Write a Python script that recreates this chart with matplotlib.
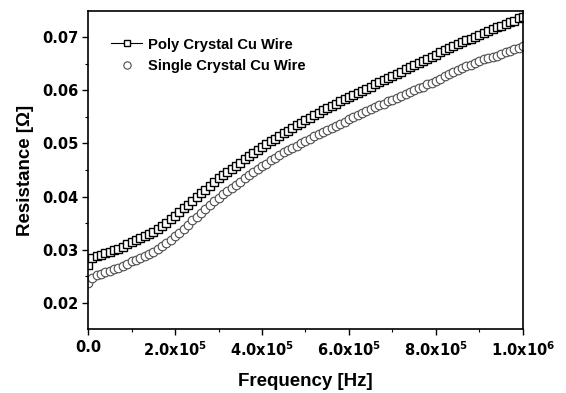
import numpy as np
import matplotlib
matplotlib.use("Agg")
import matplotlib.pyplot as plt
from matplotlib.ticker import MultipleLocator, FixedLocator, FixedFormatter

plt.rcParams['font.family'] = ['Liberation Sans', 'DejaVu Sans']
plt.rcParams['font.weight'] = 'bold'
plt.rcParams['mathtext.fontset'] = 'custom'
plt.rcParams['mathtext.rm'] = 'DejaVu Sans:bold'
plt.rcParams['mathtext.bf'] = 'DejaVu Sans:bold'
plt.rcParams['mathtext.default'] = 'bf'

# frequency grid (Hz), 101 samples from 0 to 1 MHz
freq = np.arange(101) * 1e4

# resistance values (ohm)
poly = [
    0.0272, 0.0285, 0.0288, 0.0290, 0.0293, 0.0296, 0.0299, 0.0302, 0.0306, 0.0310,
    0.0314, 0.0318, 0.0322, 0.0326, 0.0330, 0.0334, 0.0339, 0.0344, 0.0350, 0.0357,
    0.0364, 0.0371, 0.0378, 0.0385, 0.0392, 0.0399, 0.0406, 0.0413, 0.0420, 0.0427,
    0.0434, 0.0440, 0.0446, 0.0452, 0.0458, 0.0464, 0.0470, 0.0476, 0.0482, 0.0488,
    0.0494, 0.0499, 0.0504, 0.0509, 0.0514, 0.0519, 0.0524, 0.0529, 0.0534, 0.0539,
    0.0544, 0.0548, 0.0553, 0.0557, 0.0562, 0.0566, 0.0570, 0.0574, 0.0579, 0.0583,
    0.0587, 0.0591, 0.0595, 0.0599, 0.0603, 0.0607, 0.0611, 0.0615, 0.0619, 0.0623,
    0.0627, 0.0631, 0.0635, 0.0639, 0.0643, 0.0647, 0.0651, 0.0655, 0.0659, 0.0663,
    0.0667, 0.0671, 0.0675, 0.0679, 0.0683, 0.0687, 0.0690, 0.0694, 0.0697, 0.0701,
    0.0704, 0.0708, 0.0711, 0.0715, 0.0718, 0.0721, 0.0725, 0.0728, 0.0731, 0.0735,
    0.0738,
]
single = [
    0.0237, 0.0247, 0.0252, 0.0255, 0.0258, 0.0260, 0.0263, 0.0266, 0.0270, 0.0274,
    0.0278, 0.0281, 0.0284, 0.0288, 0.0292, 0.0296, 0.0301, 0.0307, 0.0313, 0.0319,
    0.0325, 0.0332, 0.0339, 0.0347, 0.0355, 0.0362, 0.0369, 0.0377, 0.0384, 0.0391,
    0.0398, 0.0404, 0.0410, 0.0416, 0.0422, 0.0428, 0.0434, 0.0440, 0.0446, 0.0452,
    0.0457, 0.0462, 0.0468, 0.0473, 0.0478, 0.0483, 0.0487, 0.0492, 0.0496, 0.0501,
    0.0505, 0.0509, 0.0513, 0.0517, 0.0521, 0.0525, 0.0529, 0.0533, 0.0537, 0.0541,
    0.0545, 0.0549, 0.0553, 0.0557, 0.0561, 0.0565, 0.0568, 0.0572, 0.0575, 0.0579,
    0.0582, 0.0586, 0.0589, 0.0593, 0.0596, 0.0600, 0.0604, 0.0607, 0.0611, 0.0614,
    0.0618, 0.0622, 0.0626, 0.0630, 0.0634, 0.0638, 0.0641, 0.0645, 0.0648, 0.0652,
    0.0655, 0.0658, 0.0660, 0.0663, 0.0665, 0.0668, 0.0671, 0.0674, 0.0677, 0.0680,
    0.0683,
]

x_ticks = [0, 2e5, 4e5, 6e5, 8e5, 1e6]
x_labels = ['0.0', '2.0x10$^5$', '4.0x10$^5$', '6.0x10$^5$', '8.0x10$^5$', '1.0x10$^6$']
y_ticks = [0.02, 0.03, 0.04, 0.05, 0.06, 0.07]
y_labels = ['0.02', '0.03', '0.04', '0.05', '0.06', '0.07']

fig = plt.figure(figsize=(5.66, 3.93), dpi=100)
ax = fig.add_axes([0.1555, 0.163, 0.7685, 0.809])

ax.plot(freq, poly, color='black', lw=0.8, marker='s', ms=5.8, mfc='white',
        mec='black', mew=1.0, label='Poly Crystal Cu Wire')
ax.plot(freq, single, ls='none', marker='o', ms=6.2, mfc='white',
        mec='#4d4d4d', mew=0.8, label='Single Crystal Cu Wire')

ax.set_xlim(0, 1e6)
ax.set_ylim(0.0151, 0.0749)

ax.xaxis.set_major_locator(FixedLocator(x_ticks))
ax.xaxis.set_major_formatter(FixedFormatter(x_labels))
ax.xaxis.set_minor_locator(MultipleLocator(1e5))
ax.yaxis.set_major_locator(FixedLocator(y_ticks))
ax.yaxis.set_major_formatter(FixedFormatter(y_labels))
ax.yaxis.set_minor_locator(MultipleLocator(0.005))

ax.tick_params(which='major', direction='out', length=4, width=1, pad=4)
ax.tick_params(which='minor', direction='out', length=2.5, width=0.8)
ax.tick_params(axis='y', which='major', pad=3)
ax.tick_params(top=False, right=False)
for lab in ax.get_xticklabels() + ax.get_yticklabels():
    lab.set_fontfamily('DejaVu Sans')
    lab.set_fontsize(10.5)
    lab.set_fontweight('bold')
for s in ax.spines.values():
    s.set_linewidth(1.2)

ax.set_xlabel('Frequency [Hz]', fontsize=13.5, fontweight='bold', labelpad=10)
ax.set_ylabel('Resistance [\u03a9]', fontsize=13.5, fontweight='bold', labelpad=6)

leg = ax.legend(loc='upper left', bbox_to_anchor=(0.04, 0.935), frameon=False,
                fontsize=10.6, handlelength=2.1, handletextpad=0.4, labelspacing=0.5,
                borderaxespad=0, markerscale=0.85)

fig.savefig('out.png', dpi=100)
